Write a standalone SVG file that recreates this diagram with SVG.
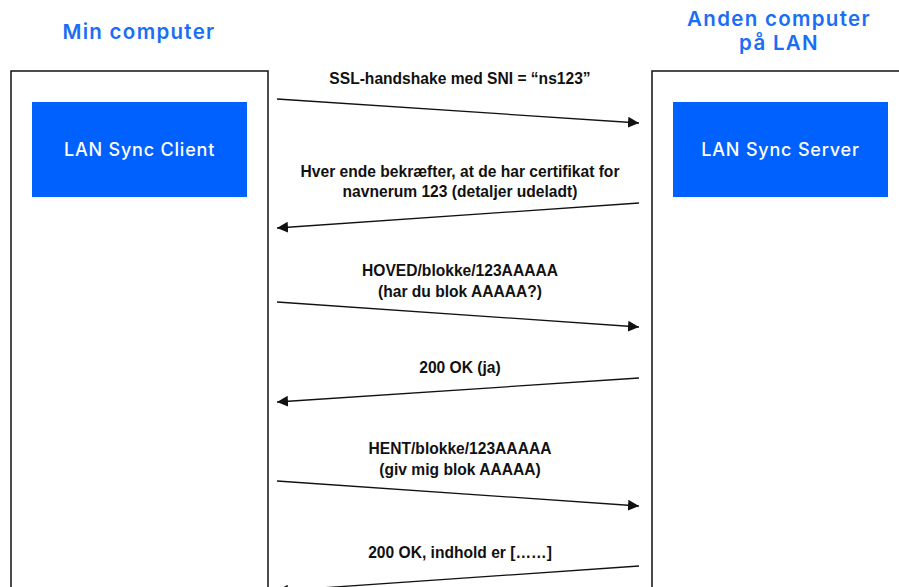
<svg xmlns="http://www.w3.org/2000/svg" width="899" height="587" viewBox="0 0 899 587">
  <style>
    .title { font-family: Inter, "Noto Sans", sans-serif; font-weight: 600; font-size: 20.5px; letter-spacing: 1.3px; fill: #1a6ef5; text-anchor: middle; }
    .frame { fill: #ffffff; stroke: #111111; stroke-width: 1.5; }
    .comp { fill: #0061fe; }
    .comp-label { font-family: Inter, "Noto Sans", sans-serif; font-weight: 500; font-size: 18px; letter-spacing: 0.8px; fill: #ffffff; text-anchor: middle; }
    .msg { font-family: "Liberation Sans", Arial, sans-serif; font-weight: bold; font-size: 15.6px; fill: #111111; text-anchor: middle; }
    .wire { stroke: #111111; stroke-width: 1.3; fill: none; marker-end: url(#head); }
  </style>
  <defs>
    <marker id="head" viewBox="0 0 10 10" refX="10" refY="5" markerWidth="11" markerHeight="11" markerUnits="userSpaceOnUse" orient="auto">
      <path d="M0,0 L10,5 L0,10 Z" fill="#111111"/>
    </marker>
  </defs>
  <rect width="899" height="587" fill="#ffffff"/>

  <g id="my-computer">
    <text class="title" x="139" y="39">Min computer</text>
    <rect class="frame" x="11" y="71" width="257" height="530"/>
  </g>

  <g id="other-computer">
    <text class="title" x="779" y="26">Anden computer</text>
    <text class="title" x="779" y="50">på LAN</text>
    <rect class="frame" x="652" y="71" width="260" height="530"/>
  </g>

  <g id="sync-client">
    <rect class="comp" x="32" y="102" width="215" height="95"/>
    <text class="comp-label" x="139.5" y="156">LAN Sync Client</text>
  </g>

  <g id="sync-server">
    <rect class="comp" x="673" y="102" width="215" height="95"/>
    <text class="comp-label" x="780.5" y="156">LAN Sync Server</text>
  </g>

  <g id="connectors">
    <line class="wire" x1="277" y1="99" x2="639" y2="123"/>
    <line class="wire" x1="639" y1="203" x2="277" y2="228"/>
    <line class="wire" x1="277" y1="302" x2="639" y2="327"/>
    <line class="wire" x1="639" y1="378" x2="277" y2="402"/>
    <line class="wire" x1="277" y1="481" x2="639" y2="506"/>
    <line class="wire" x1="639" y1="566" x2="277" y2="591"/>
  </g>

  <g id="labels">
    <text class="msg" x="460" y="84">SSL-handshake med SNI = “ns123”</text>
    <text class="msg" x="460" y="177">Hver ende bekræfter, at de har certifikat for</text>
    <text class="msg" x="460" y="197">navnerum 123 (detaljer udeladt)</text>
    <text class="msg" x="460" y="276">HOVED/blokke/123AAAAA</text>
    <text class="msg" x="460" y="297">(har du blok AAAAA?)</text>
    <text class="msg" x="460" y="373">200 OK (ja)</text>
    <text class="msg" x="460" y="454">HENT/blokke/123AAAAA</text>
    <text class="msg" x="460" y="475">(giv mig blok AAAAA)</text>
    <text class="msg" x="460" y="558">200 OK, indhold er [……]</text>
  </g>
</svg>
